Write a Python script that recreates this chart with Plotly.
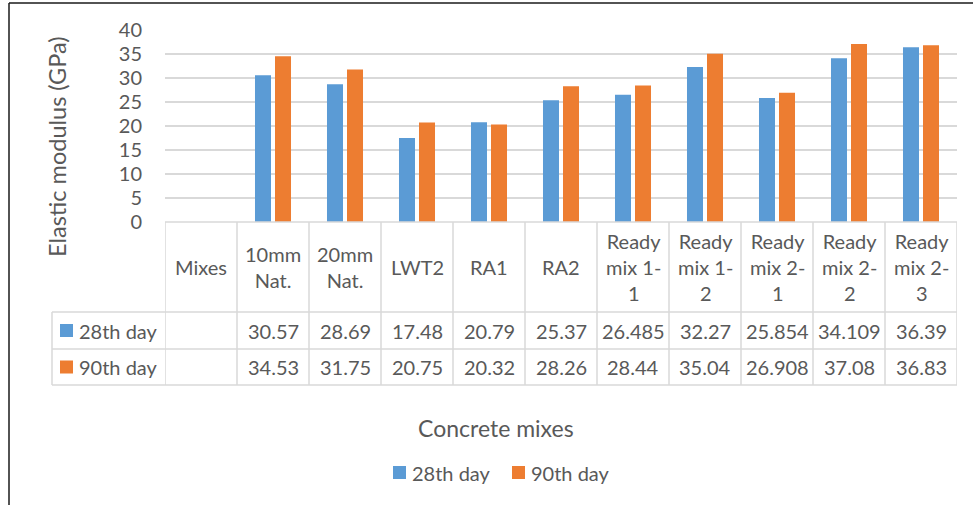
import plotly.graph_objects as go

categories = ["Mixes", "10mm<br>Nat.", "20mm<br>Nat.", "LWT2", "RA1", "RA2",
              "Ready<br>mix 1-<br>1", "Ready<br>mix 1-<br>2", "Ready<br>mix 2-<br>1",
              "Ready<br>mix 2-<br>2", "Ready<br>mix 2-<br>3"]
series_names = ["28th day", "90th day"]
day28 = [None, 30.57, 28.69, 17.48, 20.79, 25.37, 26.485, 32.27, 25.854, 34.109, 36.39]
day90 = [None, 34.53, 31.75, 20.75, 20.32, 28.26, 28.44, 35.04, 26.908, 37.08, 36.83]
colors = ["#5B9BD5", "#ED7D31"]
y_ticks = [0, 5, 10, 15, 20, 25, 30, 35, 40]

W, H = 973, 505
L, R, T, B = 165, 16, 30, 283
PW, PH = W - L - R, H - T - B
FONT = "Lato"
FS = 20
TXT = "#595959"
GRID = "#d9d9d9"


def px(x):
    return (x - L) / PW


def py(y):
    return (H - B - y) / PH


xs = list(range(len(categories)))
fig = go.Figure()
for name, vals, col in zip(series_names, [day28, day90], colors):
    fig.add_trace(go.Bar(x=xs, y=vals, name=name, marker=dict(color=col, line=dict(width=0)),
                         hoverinfo="x+y"))

shapes = []
annos = []
# table vertical lines
for i in range(len(categories) + 1):
    shapes.append(dict(type="line", xref="x", yref="paper", x0=i - 0.5, x1=i - 0.5,
                       y0=py(222), y1=py(385), line=dict(color=GRID, width=1.5)))
shapes.append(dict(type="line", xref="paper", yref="paper", x0=px(52), x1=px(52),
                   y0=py(312), y1=py(385), line=dict(color=GRID, width=1.5)))
# horizontal table lines
shapes.append(dict(type="line", xref="paper", yref="paper", x0=0, x1=1,
                   y0=py(222), y1=py(222), line=dict(color=GRID, width=1.5)))
for yy in [312, 349, 385]:
    shapes.append(dict(type="line", xref="paper", yref="paper", x0=px(52), x1=1,
                       y0=py(yy), y1=py(yy), line=dict(color=GRID, width=1.5)))

# header labels
for i, c in enumerate(categories):
    annos.append(dict(x=i, y=py(267), xref="x", yref="paper", text=c, showarrow=False,
                      align="center", xanchor="center", yanchor="middle",
                      font=dict(family=FONT, size=FS, color=TXT)))
# values rows
row_y = [330.5, 367]
for r, (name, vals, col) in enumerate(zip(series_names, [day28, day90], colors)):
    for i, v in enumerate(vals):
        if v is None:
            continue
        annos.append(dict(x=i, y=py(row_y[r]), xref="x", yref="paper", text=str(v),
                          showarrow=False, xanchor="center", yanchor="middle",
                          font=dict(family=FONT, size=FS, color=TXT)))
    shapes.append(dict(type="rect", xref="paper", yref="paper", x0=px(60), x1=px(73),
                       y0=py(row_y[r] - 6.5), y1=py(row_y[r] + 6.5),
                       fillcolor=col, line=dict(width=0)))
    annos.append(dict(x=px(77), y=py(row_y[r]), xref="paper", yref="paper", text=name,
                      showarrow=False, xanchor="left", yanchor="middle",
                      font=dict(family=FONT, size=FS, color=TXT)))

# bottom legend
leg_sq = [393, 512]
for name, col, sx in zip(series_names, colors, leg_sq):
    shapes.append(dict(type="rect", xref="paper", yref="paper", x0=px(sx), x1=px(sx + 13),
                       y0=py(466), y1=py(479), fillcolor=col, line=dict(width=0)))
    annos.append(dict(x=px(sx + 17), y=py(472.5), xref="paper", yref="paper", text=name,
                      showarrow=False, xanchor="left", yanchor="middle",
                      font=dict(family=FONT, size=FS, color=TXT)))

# axis titles
annos.append(dict(x=px(495.5), y=py(428), xref="paper", yref="paper", text="Concrete mixes",
                  showarrow=False, xanchor="center", yanchor="middle",
                  font=dict(family=FONT, size=23, color=TXT)))
annos.append(dict(x=px(57), y=py(147), xref="paper", yref="paper", text="Elastic modulus (GPa)",
                  showarrow=False, xanchor="center", yanchor="middle", textangle=-90,
                  font=dict(family=FONT, size=23.5, color=TXT)))

# chart frame (top and left)
shapes.append(dict(type="line", xref="paper", yref="paper", x0=px(9), x1=px(W),
                   y0=py(3), y1=py(3), line=dict(color="#1a1a1a", width=1.5)))
shapes.append(dict(type="line", xref="paper", yref="paper", x0=px(9), x1=px(9),
                   y0=py(3), y1=py(H), line=dict(color="#1a1a1a", width=1.5)))

fig.update_layout(
    width=W, height=H,
    margin=dict(l=L, r=R, t=T, b=B),
    paper_bgcolor="white", plot_bgcolor="white",
    barmode="group", bargap=0.444, bargroupgap=0.2,
    showlegend=False,
    shapes=shapes, annotations=annos,
    xaxis=dict(range=[-0.5, len(categories) - 0.5], showticklabels=False, showgrid=False,
               zeroline=False, showline=False, ticks="", fixedrange=True),
    yaxis=dict(range=[0, 40], tickvals=y_ticks, showgrid=True, gridcolor=GRID, gridwidth=1.5,
               zeroline=False, showline=False, ticks="outside", ticklen=18,
               tickcolor="rgba(0,0,0,0)",
               tickfont=dict(family=FONT, size=FS, color=TXT), fixedrange=True),
)

fig.write_html("out.html")
